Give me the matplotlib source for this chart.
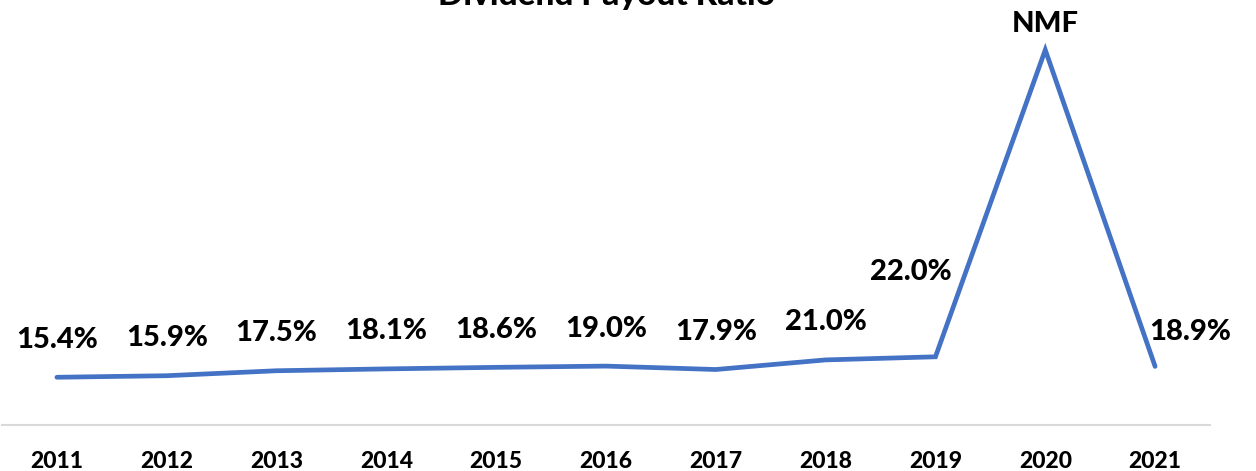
import numpy as np
import matplotlib.pyplot as plt

plt.rcParams['font.family'] = ['Lato', 'DejaVu Sans']

years = ["2011", "2012", "2013", "2014", "2015", "2016", "2017", "2018", "2019", "2020", "2021"]
payout = [15.4, 15.9, 17.5, 18.1, 18.6, 19.0, 17.9, 21.0, 22.0, 121.0, 18.9]
labels = ["15.4%", "15.9%", "17.5%", "18.1%", "18.6%", "19.0%", "17.9%", "21.0%", "22.0%", "NMF", "18.9%"]

# label offsets in points (dx, dy)
offsets = [(0, 27)] * 8 + [(-18, 61), (0, 19), (25, 25)]

fig = plt.figure(figsize=(12.56, 4.71), dpi=100)
ax = fig.add_axes([2 / 1256, 46 / 471, 1208 / 1256, 403 / 471])

x = np.arange(len(years))
ax.plot(x, payout, color='#4472C4', lw=3.4, solid_capstyle='round',
        solid_joinstyle='miter', clip_on=False)

for xi, yi, lab, off in zip(x, payout, labels, offsets):
    ax.annotate(lab, (xi, yi), xytext=off, textcoords='offset points',
                ha='center', va='center', fontsize=21, fontweight='black', color='black')

ax.set_xlim(-0.5, len(years) - 0.5)
ax.set_ylim(0, 130)
ax.set_xticks(x)
ax.set_xticklabels(years, fontsize=16.5, fontweight='black')
ax.tick_params(axis='x', length=0, pad=19)
ax.set_yticks([])
for s in ['top', 'left', 'right']:
    ax.spines[s].set_visible(False)
ax.spines['bottom'].set_color('#D9D9D9')
ax.spines['bottom'].set_linewidth(1.5)

fig.text(606 / 1256, 1 - 5 / 471, "Dividend Payout Ratio", ha='center', va='baseline',
         fontsize=24, fontweight='black')

fig.savefig('out.png', dpi=100)
